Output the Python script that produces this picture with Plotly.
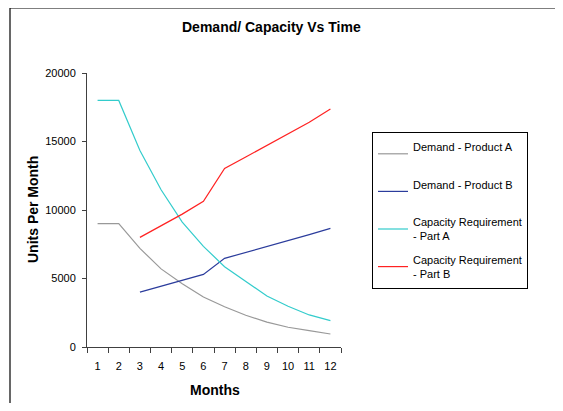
import plotly.graph_objects as go

months = [str(m) for m in range(1, 13)]
demand_a = [9000, 9000, 7200, 5700, 4620, 3650, 2940, 2320, 1820, 1440, 1190, 950]
demand_b = [None, None, 4000, 4430, 4840, 5300, 6470, 6890, 7320, 7740, 8200, 8660]
cap_a = [18000, 18000, 14350, 11480, 9120, 7350, 5860, 4770, 3720, 2970, 2340, 1920]
cap_b = [None, None, 8000, 8860, 9700, 10630, 13040, 13870, 14700, 15550, 16400, 17370]

names = ["Demand - Product A<br> ", "Demand - Product B<br> ",
         "Capacity Requirement<br>- Part A", "Capacity Requirement<br>- Part B"]
colors = ["#999999", "#2b3c9c", "#33cccc", "#ff2222"]
series = [demand_a, demand_b, cap_a, cap_b]

# page body has an 8px default margin on every side; keep the figure
# inside the window (no scrollbars) and work in reference pixel coords
OFF = 8
W, H = 563 - 2 * OFF, 411 - 2 * OFF
L, R, T, B = 87, 341, 73, 347
pw, ph = R - L, B - T

def px(x):
    return (x - L) / pw

def py(y):
    return (B - y) / ph

fig = go.Figure()
for i, (n, c, s) in enumerate(zip(names, colors, series)):
    fig.add_trace(go.Scatter(x=months, y=s, name=n, mode="lines",
                             line=dict(color=c, width=1.2),
                             legendgroup=str(i), connectgaps=False))

font = "Liberation Sans, Arial, sans-serif"
fig.update_layout(
    width=W, height=H,
    margin=dict(l=L - OFF, r=W - (R - OFF), t=T - OFF, b=H - (B - OFF),
                pad=0, autoexpand=False),
    paper_bgcolor="white", plot_bgcolor="white",
    font=dict(family=font, size=11, color="black"),
    showlegend=True,
    legend=dict(x=px(372), y=py(132), xanchor="left", yanchor="top",
                bordercolor="black", borderwidth=1, bgcolor="white",
                font=dict(size=11), tracegroupgap=6, itemwidth=30,
                traceorder="grouped"),
    xaxis=dict(type="category", tickson="boundaries", ticks="outside",
               range=[-0.5, 11.5], tickangle=0, ticklabelstandoff=9,
               ticklen=5, tickcolor="#404040", showline=True,
               linecolor="#404040", linewidth=1, showgrid=False,
               zeroline=False, tickfont=dict(size=11)),
    yaxis=dict(range=[0, 20000], dtick=5000, tickformat="d", ticks="outside",
               ticklabelstandoff=4,
               ticklen=4, tickcolor="#404040", showline=True,
               linecolor="#404040", linewidth=1, showgrid=False,
               zeroline=False, tickfont=dict(size=11)),
    annotations=[
        dict(text="<b>Demand/ Capacity Vs Time</b>", x=px(271), y=py(27),
             xref="paper", yref="paper", showarrow=False,
             font=dict(size=14), xanchor="center", yanchor="middle"),
        dict(text="<b>Units Per Month</b>", x=px(33), y=py(210),
             xref="paper", yref="paper", showarrow=False, textangle=-90,
             font=dict(size=14), xanchor="center", yanchor="middle"),
        dict(text="<b>Months</b>", x=px(215), y=py(390),
             xref="paper", yref="paper", showarrow=False,
             font=dict(size=14), xanchor="center", yanchor="middle"),
    ],
    shapes=[
        dict(type="line", xref="paper", yref="paper",
             x0=px(10), x1=px(563), y0=py(8), y1=py(8),
             line=dict(color="black", width=1.2)),
        dict(type="line", xref="paper", yref="paper",
             x0=px(10), x1=px(10), y0=py(8), y1=py(411),
             line=dict(color="black", width=1.2)),
    ],
)

fig.write_html("out.html")
